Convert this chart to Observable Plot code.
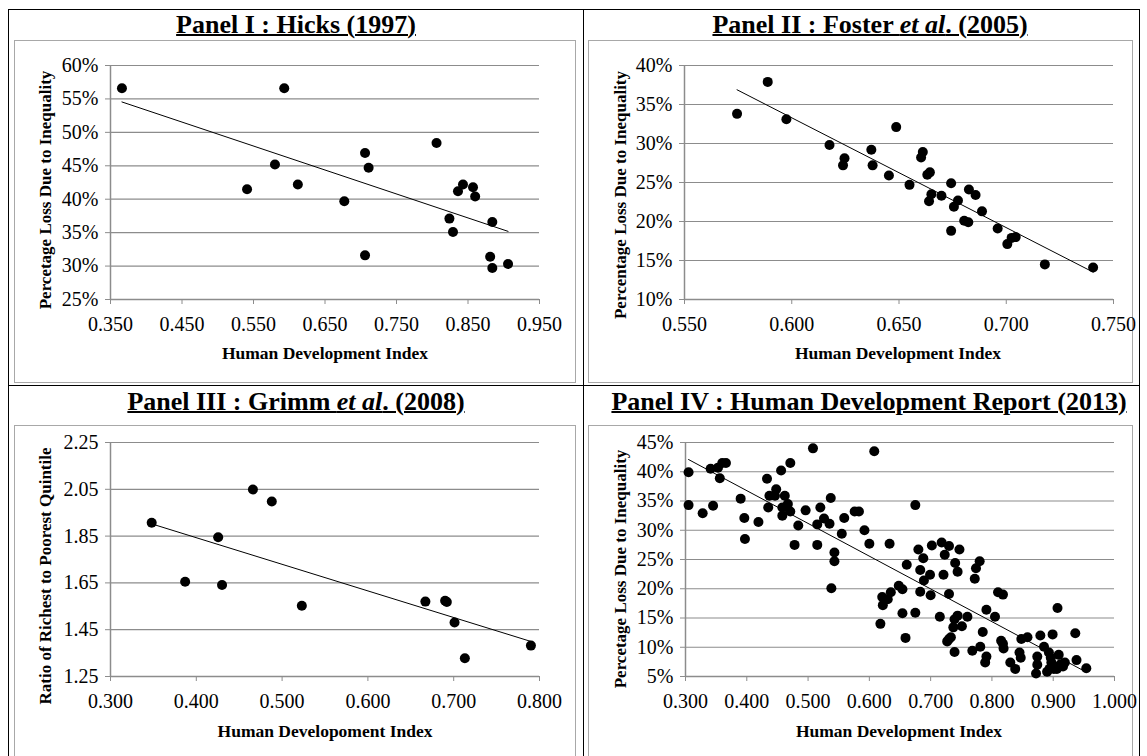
<!DOCTYPE html>
<html><head><meta charset="utf-8">
<script src="https://cdn.jsdelivr.net/npm/d3@7"></script>
<script src="https://cdn.jsdelivr.net/npm/@observablehq/plot@0.6"></script>
<style>
html,body{margin:0;padding:0;background:#fff;}
body{width:1147px;height:756px;position:relative;overflow:hidden;font-family:"Liberation Serif","Times New Roman",serif;color:#000;}
.frame{position:absolute;left:8px;top:9px;width:1132px;height:770px;border:1px solid #000;box-sizing:border-box}
.vline{position:absolute;left:583px;top:9px;width:1px;height:770px;background:#000}
.hline{position:absolute;left:8px;top:385px;width:1132px;height:1px;background:#000}
.box{position:absolute;border:1.5px solid #a8a8a8;box-sizing:border-box}
.title{position:absolute;font-weight:bold;font-size:26px;line-height:26px;text-decoration:underline;text-decoration-thickness:2px;white-space:nowrap;transform:translateX(-50%)}
.xlab{position:absolute;font-weight:bold;font-size:17.5px;line-height:17.5px;white-space:nowrap;transform:translateX(-50%)}
svg.overlay{position:absolute;left:0;top:0;pointer-events:none}
</style>
</head><body>
<div class="frame"></div>
<div class="vline"></div>
<div class="hline"></div>
<div class="box" style="left:14px;top:40px;width:562px;height:343px"></div>
<div class="box" style="left:588px;top:40px;width:545px;height:343px"></div>
<div class="box" style="left:14px;top:425px;width:562px;height:400px"></div>
<div class="box" style="left:588px;top:425px;width:545px;height:400px"></div>
<div class="title" style="left:296px;top:12px">Panel I : Hicks (1997)</div>
<div class="title" style="left:870px;top:12px">Panel II : Foster <i>et al</i>. (2005)</div>
<div class="title" style="left:296px;top:389px">Panel III : Grimm <i>et al</i>. (2008)</div>
<div class="title" style="left:869px;top:389px">Panel IV : Human Development Report (2013)</div>
<div class="xlab" style="left:325px;top:345px">Human Development Index</div>
<div class="xlab" style="left:898px;top:345px">Human Development Index</div>
<div class="xlab" style="left:325px;top:723px">Human Developoment Index</div>
<div class="xlab" style="left:899px;top:723px">Human Development Index</div>
<svg class="overlay" width="1147" height="756" style="font-family:'Liberation Serif',serif;font-weight:bold;font-size:17px">
  <text transform="translate(51,190) rotate(-90)" text-anchor="middle">Percetage Loss Due to Inequality</text>
  <text transform="translate(626,195) rotate(-90)" text-anchor="middle">Percentage Loss Due to Inequality</text>
  <text transform="translate(51,576) rotate(-90)" text-anchor="middle">Ratio of Richest to Poorest Quintile</text>
  <text transform="translate(626,569) rotate(-90)" text-anchor="middle">Percetage Loss Due to Inequality</text>
</svg>
<script>
// ---- Panel I : Hicks (1997)
const hicksHDI  = [0.366,0.593,0.541,0.580,0.612,0.677,0.706,0.711,0.706,0.806,0.824,0.829,0.836,0.843,0.857,0.860,0.884,0.881,0.884,0.906];
const hicksLoss = [56.6,56.6,41.5,45.2,42.2,39.7,46.9,44.7,31.6,48.4,37.1,35.1,41.2,42.2,41.8,40.4,36.6,31.4,29.7,30.3];
const hicksXTicks = [0.35,0.45,0.55,0.65,0.75,0.85,0.95];
const hicksYTicks = [25,30,35,40,45,50,55,60];

// ---- Panel II : Foster et al. (2005)
const fosterHDI  = [0.5745,0.5888,0.5975,0.6176,0.6246,0.6239,0.6371,0.6377,0.6453,0.6487,0.6549,0.6611,0.6603,0.6632,0.6644,0.6651,0.6640,0.6698,0.6743,0.6743,0.6756,0.6775,0.6804,0.6823,0.6826,0.6857,0.6887,0.6960,0.7005,0.7025,0.7044,0.7180,0.7405];
const fosterLoss = [33.8,37.9,33.1,29.8,28.1,27.2,29.2,27.2,25.9,32.1,24.7,28.9,28.2,26.0,26.3,23.5,22.6,23.3,24.9,18.8,21.9,22.7,20.1,19.9,24.1,23.4,21.3,19.1,17.1,17.9,18.0,14.5,14.1];
const fosterXTicks = [0.55,0.60,0.65,0.70,0.75];
const fosterYTicks = [10,15,20,25,30,35,40];

// ---- Panel III : Grimm et al. (2008)
const grimmHDI   = [0.348,0.387,0.4255,0.430,0.466,0.488,0.523,0.667,0.690,0.692,0.701,0.713,0.790];
const grimmRatio = [1.907,1.655,1.845,1.641,2.049,1.998,1.552,1.570,1.574,1.568,1.481,1.328,1.382];
const grimmXTicks = [0.3,0.4,0.5,0.6,0.7,0.8];
const grimmYTicks = [1.25,1.45,1.65,1.85,2.05,2.25];

// ---- Panel IV : Human Development Report (2013)
const hdrHDI = [0.305,0.305,0.328,0.345,0.341,0.353,0.356,0.360,0.366,0.390,0.396,0.397,0.419,0.433,0.435,0.437,0.448,0.446,0.456,0.471,
0.462,0.458,0.458,0.467,0.471,0.484,0.478,0.496,0.508,0.520,0.515,0.515,0.526,0.535,0.537,0.538,0.543,0.543,0.555,0.559,
0.576,0.583,0.592,0.600,0.608,0.633,0.618,0.621,0.622,0.630,0.635,0.648,0.654,0.654,0.659,0.661,0.675,0.675,0.680,0.683,
0.683,0.688,0.689,0.699,0.700,0.702,0.715,0.718,0.721,0.723,0.730,0.730,0.727,0.730,0.733,0.737,0.739,0.740,0.744,0.747,
0.744,0.739,0.751,0.760,0.772,0.774,0.780,0.768,0.781,0.785,0.791,0.791,0.789,0.805,0.810,0.818,0.815,0.818,0.819,0.830,
0.838,0.845,0.847,0.848,0.858,0.874,0.874,0.872,0.879,0.885,0.893,0.896,0.897,0.890,0.894,0.901,0.899,0.907,0.909,0.912,
0.916,0.906,0.919,0.936,0.938,0.954];
const hdrLoss = [39.9,34.3,32.9,34.2,40.5,40.7,38.9,41.5,41.5,35.4,32.1,28.5,31.4,38.8,33.9,35.9,37.0,35.9,40.2,41.5,
35.9,33.9,32.5,34.5,33.2,30.8,27.5,33.4,44.0,33.9,31.0,27.5,32.0,31.1,35.5,20.1,26.2,24.7,29.4,32.1,
33.2,33.2,30.0,27.7,43.5,27.7,14.0,18.6,17.2,18.2,19.4,20.5,19.9,15.8,11.6,24.1,34.3,15.9,26.7,19.5,
23.2,25.2,21.4,22.4,18.9,27.4,15.2,27.9,22.4,25.8,27.3,19.1,11.0,11.4,11.7,13.4,14.8,24.4,22.9,26.7,
15.4,9.2,13.6,15.2,21.7,23.5,24.7,9.4,10.1,12.6,16.4,8.4,7.4,15.2,19.4,19.0,11.1,10.6,9.8,7.4,
6.3,9.1,8.2,11.4,11.7,8.4,7.0,5.5,12.0,10.1,9.1,8.2,7.4,5.8,6.3,6.3,12.2,16.7,8.7,7.1,
6.7,6.3,7.4,12.4,7.8,6.4];
const hdrXTicks = [0.3,0.4,0.5,0.6,0.7,0.8,0.9,1.0];
const hdrYTicks = [5,10,15,20,25,30,35,40,45];

const GRID = "#8c8c8c";
function panel({xs, ys, xTicks, yTicks, xFmt, yFmt, left, top}) {
  const data = xs.map((x, i) => ({x, y: ys[i]}));
  const mL = 70, mR = 20, mT = 10, mB = 45, W = 429, H = 234;
  const xDomain = [xTicks[0], xTicks[xTicks.length - 1]];
  const yDomain = [yTicks[0], yTicks[yTicks.length - 1]];
  const svg = Plot.plot({
    width: W + mL + mR, height: H + mT + mB,
    marginLeft: mL, marginRight: mR, marginTop: mT, marginBottom: mB,
    style: {fontFamily: '"Liberation Serif", serif', fontSize: "20px", color: "#000", background: "transparent", overflow: "visible"},
    x: {domain: xDomain, label: null},
    y: {domain: yDomain, label: null},
    marks: [
      Plot.gridY(yTicks, {stroke: GRID, strokeOpacity: 1, strokeWidth: 1.2}),
      Plot.ruleX([xDomain[0]], {stroke: GRID, strokeWidth: 1.5}),
      Plot.ruleY([yDomain[0]], {stroke: GRID, strokeWidth: 1.5}),
      Plot.axisX(xTicks, {tickFormat: xFmt, tickSize: 5, tickPadding: 12, stroke: GRID, fill: "#000", fontSize: 20, label: null}),
      Plot.axisY(yTicks, {tickFormat: yFmt, tickSize: 5, tickPadding: 7, stroke: GRID, fill: "#000", fontSize: 20, label: null}),
      Plot.linearRegressionY(data, {x: "x", y: "y", stroke: "#000", strokeWidth: 1, ci: 0}),
      Plot.dot(data, {x: "x", y: "y", r: 5, fill: "#000", stroke: null})
    ]
  });
  svg.style.position = "absolute";
  svg.style.left = (left - mL) + "px";
  svg.style.top = (top - mT) + "px";
  document.body.appendChild(svg);
}
const f3 = d3.format(".3f"), f2 = d3.format(".2f"), pct = d => d + "%";
panel({xs: hicksHDI, ys: hicksLoss, xTicks: hicksXTicks, yTicks: hicksYTicks, xFmt: f3, yFmt: pct, left: 110, top: 65});
panel({xs: fosterHDI, ys: fosterLoss, xTicks: fosterXTicks, yTicks: fosterYTicks, xFmt: f3, yFmt: pct, left: 684, top: 65});
panel({xs: grimmHDI, ys: grimmRatio, xTicks: grimmXTicks, yTicks: grimmYTicks, xFmt: f3, yFmt: f2, left: 110, top: 442});
panel({xs: hdrHDI, ys: hdrLoss, xTicks: hdrXTicks, yTicks: hdrYTicks, xFmt: f3, yFmt: pct, left: 685, top: 442});
</script>
</body></html>
